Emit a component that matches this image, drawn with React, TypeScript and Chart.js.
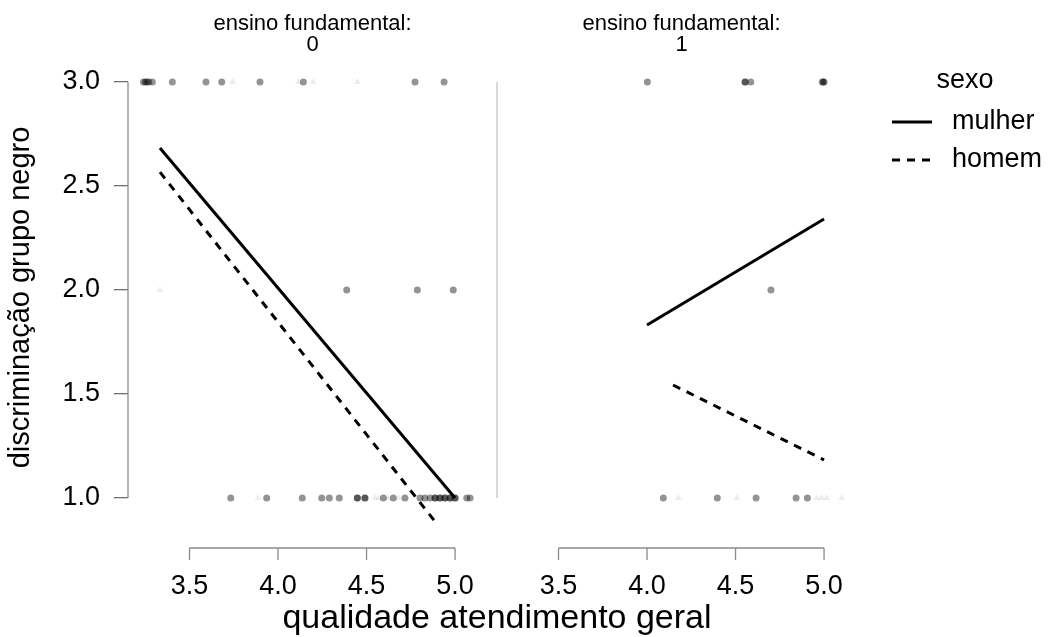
import React, { useEffect, useRef } from 'react';
import { Chart, registerables } from 'chart.js';

Chart.register(...registerables);

const FONT = '"Liberation Sans", Arial, Helvetica, sans-serif';

// ---- text ----
const stripPrefix = 'ensino fundamental:';
const panelLabels = ['0', '1'];
const xTitle = 'qualidade atendimento geral';
const yTitle = 'discriminação grupo negro';
const legendTitle = 'sexo';
const sexLabels = ['mulher', 'homem'];

// ---- axes ----
const xTicks = [3.5, 4.0, 4.5, 5.0];
const yTicks = [1.0, 1.5, 2.0, 2.5, 3.0];
const xMin = 3.1525;
const xMax = 5.237;
const yMin = 0.87;
const yMax = 3.0577;

// ---- observed points (x positions at each response level) ----
// panel "ensino fundamental: 0"
const p0MulherAt3 = [3.24, 3.25, 3.26, 3.27, 3.29, 3.403, 3.593, 3.682, 3.898, 4.143, 4.774, 4.938];
const p0HomemAt3 = [3.744, 4.115, 4.199, 4.448];
const p0MulherAt2 = [4.388, 4.787, 4.99];
const p0HomemAt2 = [3.333];
const p0MulherAt1 = [
  3.733, 3.936, 4.137, 4.247, 4.29, 4.346, 4.448, 4.448, 4.491, 4.491, 4.595, 4.651, 4.717,
  4.802, 4.83, 4.859, 4.887, 4.887, 4.915, 4.915, 4.943, 4.943, 4.972, 4.972, 5.0, 5.0, 5.066, 5.085,
];
const p0HomemAt1 = [3.887, 4.548, 4.57, 4.62, 4.68, 4.93, 4.96];
// panel "ensino fundamental: 1"
const p1MulherAt3 = [4.002, 4.554, 4.554, 4.586, 4.99, 4.996, 5.0];
const p1MulherAt2 = [4.7];
const p1MulherAt1 = [4.092, 4.397, 4.616, 4.842, 4.906];
const p1HomemAt1 = [4.177, 4.507, 4.959, 4.987, 5.015, 5.1];

// ---- fitted lines ----
const fit0MulherX = [3.333, 5.0];
const fit0MulherY = [2.683, 1.0];
const fit0HomemX = [3.333, 4.893];
const fit0HomemY = [2.567, 0.88];
const fit1MulherX = [4.0, 5.0];
const fit1MulherY = [1.832, 2.341];
const fit1HomemX = [4.147, 5.0];
const fit1HomemY = [1.543, 1.183];

const pts = (xs: number[], y: number) => xs.map((x) => ({ x, y }));
const line = (xs: number[], ys: number[]) => xs.map((x, i) => ({ x, y: ys[i] }));

const MULHER_FILL = 'rgba(0,0,0,0.42)';
const HOMEM_FILL = 'rgba(0,0,0,0.07)';

const decorPlugin = {
  id: 'decor',
  afterDraw(chart: any) {
    const { ctx, chartArea, scales } = chart;
    const y = scales.y;
    const panels = [scales.x0, scales.x1];
    const y3 = y.getPixelForValue(3);
    const y1 = y.getPixelForValue(1);
    ctx.save();
    // y axis line (spans tick range only)
    ctx.strokeStyle = '#8a8a8a';
    ctx.lineWidth = 1.3;
    ctx.beginPath();
    ctx.moveTo(chartArea.left, y3);
    ctx.lineTo(chartArea.left, y1);
    ctx.stroke();
    // panel separator
    ctx.strokeStyle = '#c4c4c4';
    ctx.beginPath();
    ctx.moveTo(panels[1].left, y3);
    ctx.lineTo(panels[1].left, y1);
    ctx.stroke();
    // x axes offset below panels
    const axisY = chartArea.bottom + 23;
    ctx.strokeStyle = '#8a8a8a';
    for (const sc of panels) {
      ctx.beginPath();
      ctx.moveTo(sc.getPixelForValue(xTicks[0]), axisY);
      ctx.lineTo(sc.getPixelForValue(xTicks[xTicks.length - 1]), axisY);
      for (const t of xTicks) {
        const px = sc.getPixelForValue(t);
        ctx.moveTo(px, axisY);
        ctx.lineTo(px, axisY + 12);
      }
      ctx.stroke();
    }
    // strip titles
    ctx.fillStyle = '#000';
    ctx.textAlign = 'center';
    ctx.textBaseline = 'middle';
    ctx.font = `22px ${FONT}`;
    panels.forEach((sc, i) => {
      const cx = (sc.left + sc.right) / 2;
      ctx.fillText(stripPrefix, cx, 24);
      ctx.fillText(panelLabels[i], cx, 45);
    });
    // x title
    ctx.font = `34px ${FONT}`;
    ctx.textBaseline = 'alphabetic';
    ctx.fillText(xTitle, (chartArea.left + chartArea.right) / 2, 628);
    // legend
    ctx.font = `27px ${FONT}`;
    ctx.textBaseline = 'middle';
    ctx.fillText(legendTitle, 965, 81);
    ctx.textAlign = 'left';
    const rows = [122, 160];
    rows.forEach((ry, i) => {
      ctx.strokeStyle = '#000';
      ctx.lineWidth = 3;
      ctx.setLineDash(i === 0 ? [] : [8, 7]);
      ctx.beginPath();
      ctx.moveTo(892, ry);
      ctx.lineTo(932, ry);
      ctx.stroke();
      ctx.setLineDash([]);
      ctx.fillText(sexLabels[i], 952, ry);
    });
    ctx.restore();
  },
};

export default function App() {
  const canvasRef = useRef<HTMLCanvasElement | null>(null);

  useEffect(() => {
    document.body.style.margin = '0';
    const canvas = canvasRef.current;
    if (!canvas) return;

    const scatter = (data: any[], xAxisID: string, homem: boolean) => ({
      type: 'scatter' as const,
      data,
      xAxisID,
      yAxisID: 'y',
      pointStyle: homem ? 'triangle' : 'circle',
      pointRadius: homem ? 4 : 3.5,
      pointBackgroundColor: homem ? HOMEM_FILL : MULHER_FILL,
      pointBorderWidth: 0,
      pointBorderColor: 'rgba(0,0,0,0)',
      showLine: false,
    });
    const fit = (data: any[], xAxisID: string, dashed: boolean) => ({
      type: 'line' as const,
      data,
      xAxisID,
      yAxisID: 'y',
      borderColor: '#000',
      borderWidth: 3,
      borderDash: dashed ? [8, 7] : [],
      pointRadius: 0,
      fill: false,
      tension: 0,
    });

    const xScale = (extra: any) => ({
      type: 'linear',
      position: 'bottom',
      stack: 'panels',
      stackWeight: 1,
      min: xMin,
      max: xMax,
      afterBuildTicks: (s: any) => {
        s.ticks = xTicks.map((v) => ({ value: v }));
      },
      afterFit: (s: any) => {
        s.height = 112;
      },
      grid: { display: false },
      border: { display: false },
      ticks: {
        autoSkip: false,
        maxRotation: 0,
        padding: 37,
        color: '#000',
        font: { family: FONT, size: 27 },
        callback: (v: any) => Number(v).toFixed(1),
      },
      ...extra,
    });

    const chart = new Chart(canvas, {
      type: 'scatter',
      data: {
        datasets: [
          scatter(pts(p0HomemAt3, 3), 'x0', true),
          scatter(pts(p0HomemAt2, 2), 'x0', true),
          scatter(pts(p0HomemAt1, 1), 'x0', true),
          scatter(pts(p0MulherAt3, 3), 'x0', false),
          scatter(pts(p0MulherAt2, 2), 'x0', false),
          scatter(pts(p0MulherAt1, 1), 'x0', false),
          scatter(pts(p1HomemAt1, 1), 'x1', true),
          scatter(pts(p1MulherAt3, 3), 'x1', false),
          scatter(pts(p1MulherAt2, 2), 'x1', false),
          scatter(pts(p1MulherAt1, 1), 'x1', false),
          fit(line(fit0MulherX, fit0MulherY), 'x0', false),
          fit(line(fit0HomemX, fit0HomemY), 'x0', true),
          fit(line(fit1MulherX, fit1MulherY), 'x1', false),
          fit(line(fit1HomemX, fit1HomemY), 'x1', true),
        ] as any,
      },
      options: {
        responsive: false,
        animation: false,
        devicePixelRatio: 1,
        layout: { padding: { top: 70, right: 186, bottom: 0, left: 0 } },
        plugins: {
          legend: { display: false },
          tooltip: { enabled: false },
        },
        scales: {
          x0: xScale({}),
          x1: xScale({}),
          y: {
            type: 'linear',
            position: 'left',
            min: yMin,
            max: yMax,
            afterBuildTicks: (s: any) => {
              s.ticks = yTicks.map((v) => ({ value: v }));
            },
            afterFit: (s: any) => {
              s.width = 128;
            },
            border: { display: false },
            grid: {
              drawOnChartArea: false,
              drawTicks: true,
              tickLength: 14,
              color: '#707070',
              lineWidth: 1.3,
            },
            ticks: {
              padding: 14,
              color: '#000',
              font: { family: FONT, size: 27 },
              callback: (v: any) => Number(v).toFixed(1),
            },
            title: {
              display: true,
              text: yTitle,
              color: '#000',
              font: { family: FONT, size: 29 },
              padding: { top: 4, bottom: 0 },
            },
          },
        } as any,
      },
      plugins: [decorPlugin],
    });

    return () => chart.destroy();
  }, []);

  return (
    <div style={{ position: 'absolute', left: 0, top: 0, width: 1052, height: 637, background: '#fff' }}>
      <canvas ref={canvasRef} width={1052} height={637} />
    </div>
  );
}
